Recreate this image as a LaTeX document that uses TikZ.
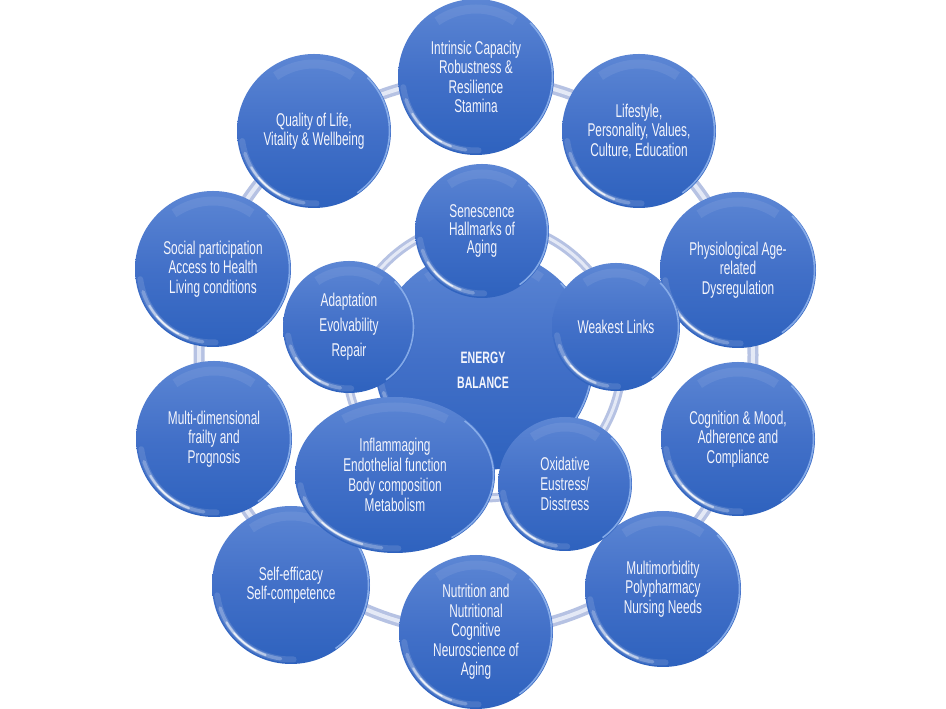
\documentclass[tikz,border=0pt]{standalone}
\usepackage{fontspec}
\usetikzlibrary{shapes.geometric}
\newfontfamily\agency[FakeStretch=0.64]{Liberation Sans}
\definecolor{bTop}{RGB}{92,134,212}
\definecolor{bMid}{RGB}{66,112,200}
\definecolor{bBot}{RGB}{46,98,190}
\definecolor{txt}{RGB}{244,245,252}
\definecolor{rimc}{RGB}{150,185,240}
\definecolor{ringA}{RGB}{182,194,227}
\definecolor{ringB}{RGB}{228,233,246}
\newcommand\gloss[3]{%
 \begin{scope}
  \clip (#1.center) ellipse [x radius=#2, y radius=#3];
  \pgfmathsetmacro\gxa{#2-4.5}\pgfmathsetmacro\gya{#3-4.5}%
  \foreach \a/\b/\o/\w in {188/272/.12/6pt, 198/262/.25/3.5pt, 210/250/.5/2.2pt, 220/242/.75/1.4pt}{
   \draw[white, opacity=\o, line width=\w, line cap=round] (#1.center) ++(\a:\gxa\space and \gya) arc[start angle=\a, end angle=\b, x radius=\gxa, y radius=\gya];
  }
  \pgfmathsetmacro\gxb{#2-1.5}\pgfmathsetmacro\gyb{#3-1.5}%
  \draw[rimc, line width=1.6pt, opacity=.8] (#1.center) ++(-55:\gxb\space and \gyb) arc[start angle=-55, end angle=45, x radius=\gxb, y radius=\gyb];
  \pgfmathsetmacro\gxc{#2-10}\pgfmathsetmacro\gyc{#3-10}%
  \draw[white, opacity=.08, line width=9pt] (#1.center) ++(55:\gxc\space and \gyc) arc[start angle=55, end angle=125, x radius=\gxc, y radius=\gyc];
 \end{scope}}
\tikzset{
 bub/.style={circle, inner sep=0pt, top color=bTop, bottom color=bBot, middle color=bMid,
   text=txt, align=center, font=\agency\fontsize{18.5}{19.5}\selectfont},
 ringline/.style={line width=11pt, draw=ringA},
 ringglow/.style={line width=4pt, draw=ringB},
}
\begin{document}
\begin{tikzpicture}[x=1pt,y=1pt]
\fill[white] (0,0) rectangle (946,709);
\useasboundingbox (0,0) rectangle (946,709);
% outer ring
\draw[ringline] (476,354) circle (277);
\draw[ringglow] (476,354) circle (277);
% outer bubbles
\node[bub, minimum size=156pt] (intr) at (476,632) {Intrinsic Capacity\\Robustness \&\\Resilience\\Stamina};
\node[bub, minimum size=154pt] (life) at (639,578) {Lifestyle,\\Personality, Values,\\Culture, Education};
\node[bub, minimum size=156pt] (phys) at (738,439) {Physiological Age-\\related\\Dysregulation};
\node[bub, minimum size=154pt] (cogn) at (738,270) {Cognition \& Mood,\\Adherence and\\Compliance};
\node[bub, minimum size=156pt] (mult) at (663,120) {Multimorbidity\\Polypharmacy\\Nursing Needs};
\node[bub, minimum size=154pt] (nutr) at (476,77) {Nutrition and\\Nutritional\\Cognitive\\Neuroscience of\\Aging};
\node[bub, minimum size=158pt] (self) at (291,124) {Self-efficacy\\Self-competence};
\node[bub, minimum size=156pt] (frail) at (214,270) {Multi-dimensional\\frailty and\\Prognosis};
\node[bub, minimum size=156pt] (soc) at (213,440) {Social participation\\Access to Health\\Living conditions};
\node[bub, minimum size=154pt] (qol) at (314,578) {Quality of Life,\\Vitality \& Wellbeing};
\gloss{intr}{78}{78}\gloss{life}{77}{77}\gloss{phys}{78}{78}\gloss{cogn}{77}{77}
\gloss{mult}{78}{78}\gloss{nutr}{77}{77}\gloss{self}{79}{79}\gloss{frail}{78}{78}
\gloss{soc}{78}{78}\gloss{qol}{77}{77}
% inner ring
\draw[ringline, line width=9pt] (484,349) circle (138);
\draw[ringglow, line width=3pt] (484,349) circle (138);
% core
\node[bub, minimum size=220pt] (core) at (484,349) {};
\gloss{core}{110}{110}
% inner bubbles
\node[bub, minimum size=134pt, font=\agency\fontsize{18.5}{18}\selectfont] (sen) at (482,478) {Senescence\\Hallmarks of\\Aging};
\node[bub, minimum size=128pt] (weak) at (616,382) {Weakest Links};
\node[bub, minimum size=132pt, font=\agency\fontsize{18.5}{25}\selectfont] (adap) at (349,382) {Adaptation\\Evolvability\\Repair};
\node[bub, ellipse, minimum width=200pt, minimum height=156pt, font=\agency\fontsize{18.5}{20}\selectfont] (infl) at (395,234) {Inflammaging\\Endothelial function\\Body composition\\Metabolism};
\node[bub, minimum size=134pt, font=\agency\fontsize{18.5}{20}\selectfont] (oxid) at (565,225) {Oxidative\\Eustress/\\Disstress};
\gloss{sen}{67}{67}\gloss{weak}{64}{64}\gloss{adap}{66}{66}\gloss{infl}{100}{78}\gloss{oxid}{67}{67}
\node[text=txt, align=center, font=\agency\bfseries\fontsize{16.5}{25}\selectfont] (coretext) at (483,339) {ENERGY\\BALANCE};
\end{tikzpicture}
\end{document}
